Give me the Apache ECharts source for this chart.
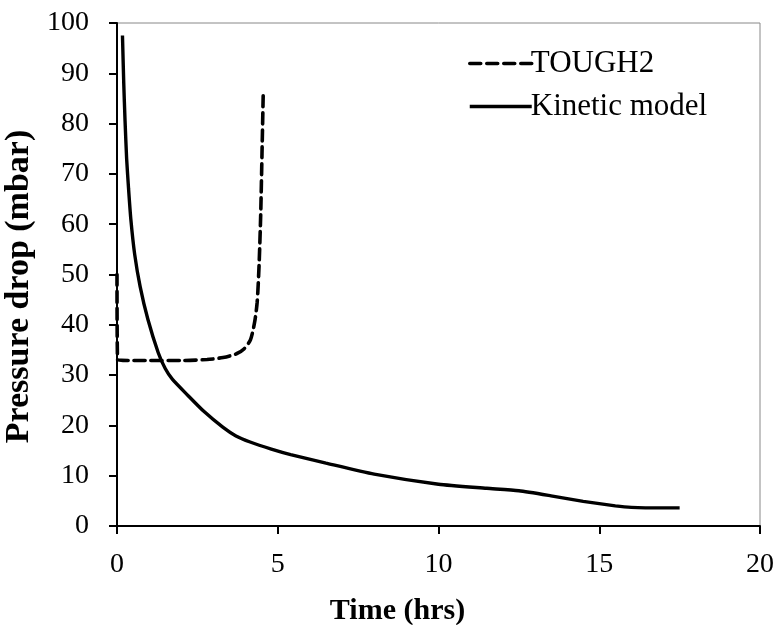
<!DOCTYPE html>
<html><head><meta charset="utf-8">
<script src="https://cdn.jsdelivr.net/npm/echarts@6/dist/echarts.min.js"></script>
<style>html,body{margin:0;padding:0;background:#fff}#c{width:778px;height:625px}</style>
</head><body><div id="c"></div>
<script>
var xTicks = [0, 5, 10, 15, 20];
var yTicks = [0, 10, 20, 30, 40, 50, 60, 70, 80, 90, 100];
var tough2 = [[0,50],[0.02,33],[0.5,32.9],[1,32.9],[2,32.9],[2.8,33.1],[3.3,33.5],[3.7,34.2],[3.95,35.2],[4.15,37],[4.28,40.5],[4.36,44.5],[4.42,52],[4.47,62],[4.51,74],[4.55,86.5]];
var kinetic = [[0.17,97.5],[0.21,88],[0.25,80.6],[0.3,73],[0.36,67],[0.43,61],[0.55,54],[0.72,47.6],[0.96,41.1],[1.28,34.5],[1.5,31.3],[1.72,29.2],[2.2,26],[2.7,22.8],[3.3,19.6],[3.7,17.9],[4.14,16.7],[4.8,15.3],[5.4,14.2],[6.5,12.5],[8,10.3],[10,8.3],[11.5,7.5],[12.5,7.0],[13.5,6],[14.5,4.9],[15.5,4.0],[16,3.7],[17,3.6],[17.5,3.6]];
var chart = echarts.init(document.getElementById('c'));
var font = '"Liberation Serif","Times New Roman",serif';
chart.setOption({
  animation: false,
  backgroundColor: '#fff',
  grid: {left: 117, right: 18, top: 23, bottom: 99, outerBoundsMode: 'none', containLabel: false,
         show: true, borderColor: '#888', borderWidth: 1},
  legend: {
    orient: 'vertical', left: 463, top: 43, itemWidth: 62, itemHeight: 14, itemGap: 12,
    itemStyle: {opacity: 0},
    lineStyle: {width: 3.5},
    textStyle: {fontFamily: font, fontSize: 31, color: '#000', padding: [0,0,0,-6]},
    data: [{name: 'TOUGH2'}, {name: 'Kinetic model'}]
  },
  xAxis: {
    type: 'value', min: 0, max: 20, interval: 5,
    name: 'Time (hrs)', nameLocation: 'middle', nameGap: 70,
    nameTextStyle: {fontFamily: font, fontSize: 30, fontWeight: 'bold', color: '#000', padding: [0, 82, 0, 0]},
    axisLine: {lineStyle: {color: '#000', width: 2}},
    axisTick: {show: true, length: 8, lineStyle: {color: '#000', width: 2}},
    axisLabel: {fontFamily: font, fontSize: 28, color: '#000', margin: 25,
      formatter: function(v){ return xTicks.indexOf(v) >= 0 ? String(v) : ''; }},
    splitLine: {show: false}
  },
  yAxis: {
    type: 'value', min: 0, max: 100, interval: 10,
    name: 'Pressure drop (mbar)', nameLocation: 'middle', nameGap: 75, nameRotate: 90,
    nameTextStyle: {fontFamily: font, fontSize: 34, fontWeight: 'bold', color: '#000', padding: [0, 24, 0, 0]},
    axisLine: {lineStyle: {color: '#000', width: 2}},
    axisTick: {show: true, length: 8, lineStyle: {color: '#000', width: 2}},
    axisLabel: {fontFamily: font, fontSize: 28, color: '#000', margin: 28,
      formatter: function(v){ return yTicks.indexOf(v) >= 0 ? String(v) : ''; }},
    splitLine: {show: false}
  },
  series: [
    {name: 'TOUGH2', type: 'line', data: tough2, showSymbol: false, symbol: 'none', smooth: 0.25,
     lineStyle: {color: '#000', width: 3.6, type: [11, 6], cap: 'round'}, itemStyle: {color: '#000'}},
    {name: 'Kinetic model', type: 'line', data: kinetic, showSymbol: false, symbol: 'none', smooth: 0.2,
     lineStyle: {color: '#000', width: 3.4}, itemStyle: {color: '#000'}}
  ]
});
</script></body></html>
